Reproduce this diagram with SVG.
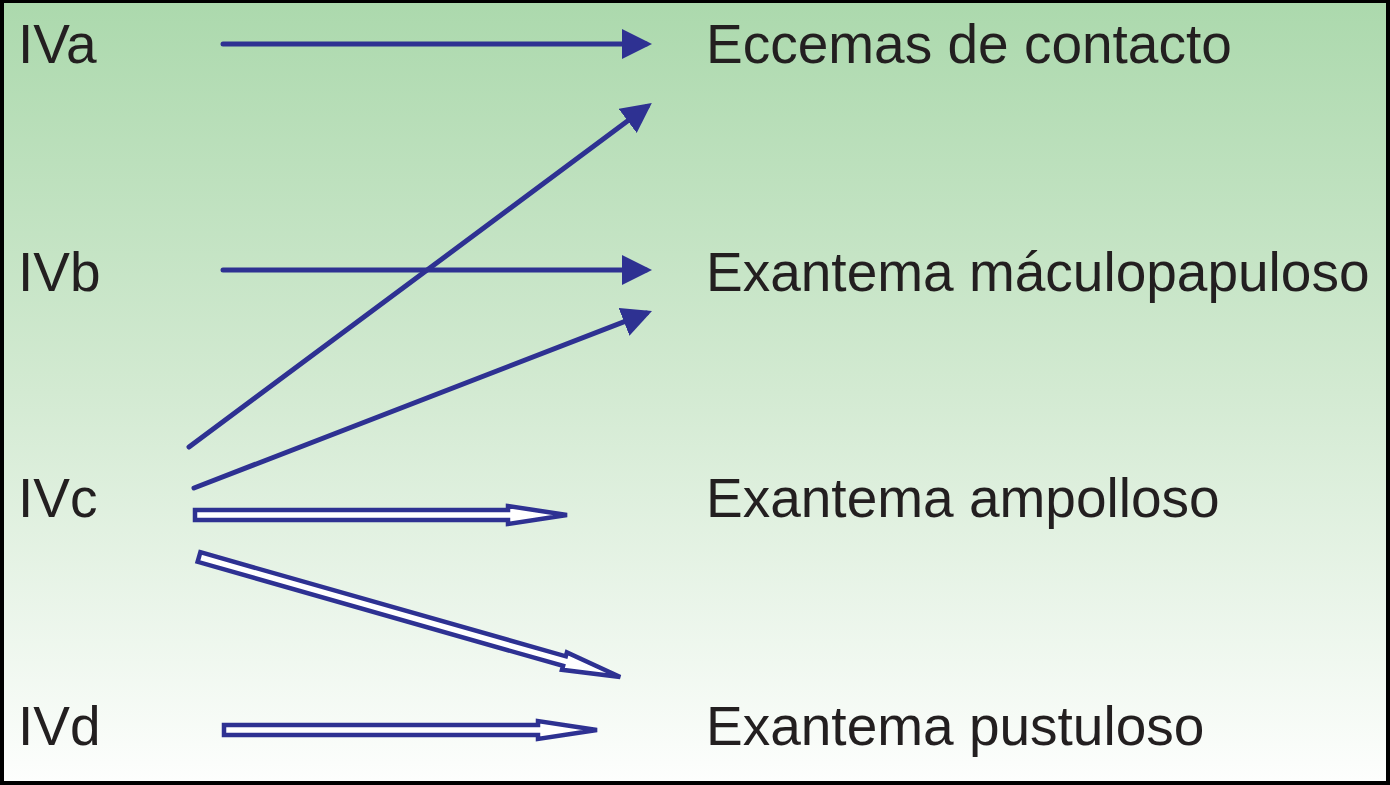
<svg xmlns="http://www.w3.org/2000/svg" width="1390" height="785" viewBox="0 0 1390 785">
<defs>
<linearGradient id="bg" x1="0" y1="0" x2="0" y2="1">
<stop offset="0" stop-color="#acd9ad"/>
<stop offset="0.5" stop-color="#d3ead2"/>
<stop offset="1" stop-color="#fdfefd"/>
</linearGradient>
<marker id="head" markerUnits="userSpaceOnUse" markerWidth="30" markerHeight="30" refX="24" refY="15" orient="auto" viewBox="0 0 30 30">
<path d="M0,0 L30,15 L0,30 Z" fill="#2e3192"/>
</marker>
<style>
.lbl{font-family:"Liberation Sans",Arial,sans-serif;font-size:55px;fill:#231f20}
.solid{stroke:#2e3192;stroke-width:5;stroke-linecap:round;fill:none}
.hollow{stroke:#2e3192;stroke-width:4.5;stroke-linejoin:miter;fill:#ffffff}
</style>
</defs>
<rect x="0" y="0" width="1390" height="785" fill="#000"/>
<rect x="4" y="3" width="1382" height="778" fill="url(#bg)"/>
<g id="n-iva"><text class="lbl" x="18" y="63">IVa</text></g>
<g id="n-ivb"><text class="lbl" x="18" y="291">IVb</text></g>
<g id="n-ivc"><text class="lbl" x="18" y="517">IVc</text></g>
<g id="n-ivd"><text class="lbl" x="18" y="745">IVd</text></g>
<g id="n-eccemas"><text class="lbl" x="706" y="63">Eccemas de contacto</text></g>
<g id="n-maculo"><text class="lbl" x="706" y="291">Exantema máculopapuloso</text></g>
<g id="n-ampolloso"><text class="lbl" x="706" y="517">Exantema ampolloso</text></g>
<g id="n-pustuloso"><text class="lbl" x="706" y="745">Exantema pustuloso</text></g>
<g id="connectors">
<line class="solid" x1="223" y1="44" x2="646" y2="44" marker-end="url(#head)"/>
<line class="solid" x1="189" y1="447" x2="647" y2="106.6" marker-end="url(#head)"/>
<line class="solid" x1="223" y1="270" x2="646" y2="270" marker-end="url(#head)"/>
<line class="solid" x1="194" y1="488" x2="646.4" y2="313.2" marker-end="url(#head)"/>
<path class="hollow" transform="translate(195,515)" d="M0,-5 L313,-5 L313,-9 L372,0 L313,9 L313,5 L0,5 Z"/>
<path class="hollow" transform="translate(199,557) rotate(15.9)" d="M0,-5 L380,-5 L380,-9 L438,0 L380,9 L380,5 L0,5 Z"/>
<path class="hollow" transform="translate(224,730)" d="M0,-5 L314,-5 L314,-9 L373,0 L314,9 L314,5 L0,5 Z"/>
</g>
</svg>
